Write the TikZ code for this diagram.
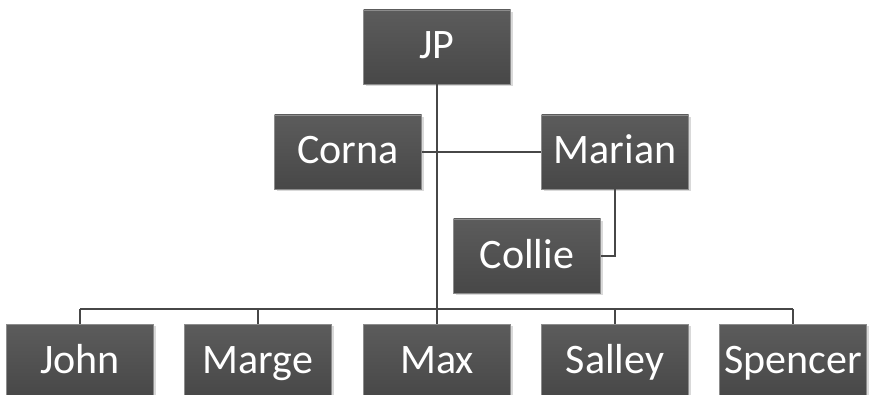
\documentclass[tikz,border=0pt]{standalone}
\usepackage{fontspec}
\setmainfont{Carlito}
\usetikzlibrary{shadows}

\begin{document}
\begin{tikzpicture}[x=1pt,y=1pt]
\tikzstyle{person}=[rectangle, minimum width=147pt, minimum height=74pt, inner sep=0pt,
  text height=30pt, text depth=6pt,
  top color=black!64, bottom color=black!72, draw=black!45, line width=0.8pt,
  drop shadow={opacity=0.3, shadow xshift=2pt, shadow yshift=-2pt},
  text=white, font=\fontsize{42}{50}\selectfont]
\tikzstyle{link}=[draw=black!72, line width=1.6pt]
\useasboundingbox (0,0) rectangle (869,-395);
\node [person] (jp) at (437,-47) {JP};
\node [person] (corna) at (348,-152) {Corna};
\node [person] (marian) at (615,-152) {Marian};
\node [person] (collie) at (527,-256) {Collie};
\node [person] (john) at (80,-361) {John};
\node [person] (marge) at (258,-361) {Marge};
\node [person] (max) at (437,-361) {Max};
\node [person] (salley) at (615,-361) {Salley};
\node [person] (spencer) at (793,-361) {Spencer};
\coordinate (bus) at (437,-309);
% trunk and side branches
\draw [link] (jp.south) -- (bus);
\draw [link] (corna.east) -- (marian.west);
\draw [link] (marian.south) |- (collie.east);
% bottom row
\draw [link] (john.north |- bus) -- (spencer.north |- bus);
\foreach \p in {john,marge,max,salley,spencer}
  \draw [link] (\p.north |- bus) -- (\p.north);
\end{tikzpicture}
\end{document}
